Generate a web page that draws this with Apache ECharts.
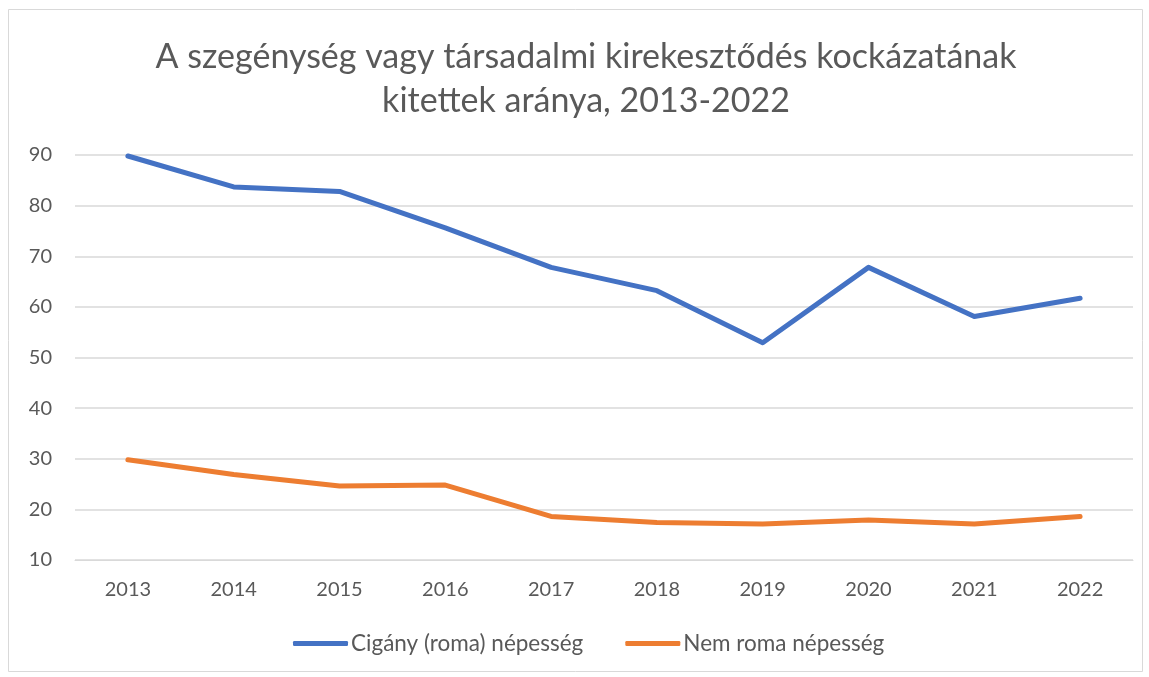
<!DOCTYPE html>
<html>
<head>
<meta charset="utf-8">
<script src="https://cdn.jsdelivr.net/npm/echarts@6/dist/echarts.min.js"></script>
<style>
html,body{margin:0;padding:0;background:#fff;}
#chart{width:1149px;height:677px;}
</style>
</head>
<body>
<div id="chart"></div>
<script>
const years = ['2013','2014','2015','2016','2017','2018','2019','2020','2021','2022'];
const romaValues = [89.8, 83.7, 82.8, 75.6, 67.8, 63.2, 52.9, 67.8, 58.1, 61.7];
const nonRomaValues = [29.8, 26.9, 24.6, 24.8, 18.6, 17.4, 17.1, 17.9, 17.1, 18.6];
const seriesNames = ['Cigány (roma) népesség', 'Nem roma népesség'];
const titleText = 'A szegénység vagy társadalmi kirekesztődés kockázatának\nkitettek aránya, 2013-2022';

const FONT = 'Lato';
const chart = echarts.init(document.getElementById('chart'), null, {renderer: 'canvas'});
chart.setOption({
  animation: false,
  backgroundColor: '#fff',
  graphic: [{
    type: 'rect',
    shape: {x: 8.5, y: 9.5, width: 1134, height: 662},
    style: {fill: 'none', stroke: '#d9d9d9', lineWidth: 1},
    silent: true
  }, {
    type: 'text',
    x: 586, y: 35,
    silent: true,
    style: {
      text: titleText,
      align: 'center',
      verticalAlign: 'top',
      fontFamily: FONT, fontSize: 34, fontWeight: 'normal',
      fill: '#595959', lineHeight: 44
    }
  }],
  grid: {left: 75, right: 16, top: 155, bottom: 117, containLabel: false},
  legend: {
    bottom: 17,
    left: 288,
    itemWidth: 55,
    itemHeight: 5,
    itemGap: 42,
    icon: 'roundRect',
    textStyle: {fontFamily: FONT, fontSize: 22.5, color: '#595959', padding: [0,0,0,-2]},
    data: seriesNames
  },
  xAxis: {
    type: 'category',
    data: years,
    boundaryGap: true,
    axisLine: {show: true, lineStyle: {color: '#d9d9d9', width: 1}},
    axisTick: {show: false},
    axisLabel: {fontFamily: FONT, fontSize: 20, color: '#595959', margin: 20}
  },
  yAxis: {
    type: 'value',
    min: 10, max: 90, interval: 10,
    axisLine: {show: false},
    axisTick: {show: false},
    splitLine: {lineStyle: {color: '#d9d9d9', width: 1.5}},
    axisLabel: {fontFamily: FONT, fontSize: 20, color: '#595959', margin: 23}
  },
  series: [
    {
      name: seriesNames[0], type: 'line', data: romaValues,
      symbol: 'none', lineStyle: {color: '#4472C4', width: 5, cap: 'round', join: 'round'},
      itemStyle: {color: '#4472C4'}
    },
    {
      name: seriesNames[1], type: 'line', data: nonRomaValues,
      symbol: 'none', lineStyle: {color: '#ED7D31', width: 5, cap: 'round', join: 'round'},
      itemStyle: {color: '#ED7D31'}
    }
  ]
});
</script>
</body>
</html>
